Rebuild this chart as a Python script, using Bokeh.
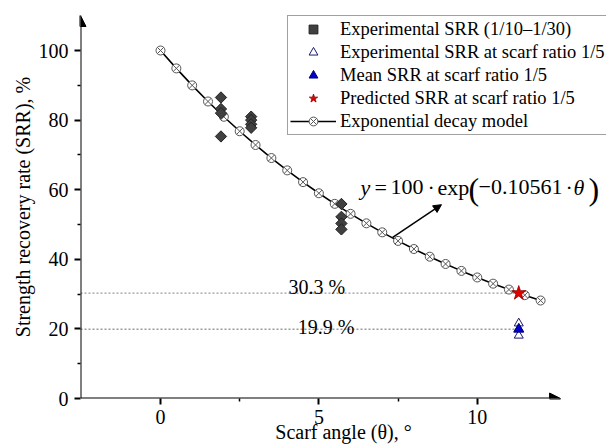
from bokeh.plotting import figure
from bokeh.models import (Range1d, FixedTicker, Label, Arrow, NormalHead,
                          Legend, LegendItem, ColumnDataSource)
from bokeh.embed import file_html
from bokeh.resources import INLINE

# ---------------- data ----------------
model_angle = [0, 0.5, 1, 1.5, 2, 2.5, 3, 3.5, 4, 4.5, 5, 5.5, 6, 6.5, 7,
               7.5, 8, 8.5, 9, 9.5, 10, 10.5, 11, 11.5, 12]
model_srr = [100.0, 94.86, 89.98, 85.35, 80.96, 76.80, 72.85, 69.10, 65.55,
             62.18, 58.98, 55.94, 53.07, 50.34, 47.75, 45.29, 42.96, 40.75,
             38.66, 36.67, 34.78, 33.00, 31.30, 29.69, 28.16]

exp_angle = [1.909, 1.909, 1.909, 1.909,
             2.862, 2.862, 2.862, 2.862,
             5.711, 5.711, 5.711, 5.711]
exp_srr = [86.5, 83.2, 82.0, 75.3,
           81.0, 80.0, 78.8, 77.8,
           55.9, 52.2, 50.3, 48.6]

r5_angle = [11.31, 11.31, 11.31]
r5_srr = [21.6, 20.0, 18.1]

mean_angle = [11.31]
mean_srr = [19.9]

pred_angle = [11.31]
pred_srr = [30.3]

ref_levels = [30.3, 19.9]
ref_labels = ["30.3 %", "19.9 %"]

x_ticks = [0, 5, 10]
x_minor = [2.5, 7.5]
y_ticks = [0, 20, 40, 60, 80, 100]
y_minor = [10, 30, 50, 70, 90]

FONT = "Liberation Serif"

# ---------------- figure ----------------
X0, X1 = -2.526, 14.08
Y0, Y1 = 0, 110.06

p = figure(width=606, height=448, output_backend="svg", toolbar_location=None,
           x_range=Range1d(X0, X1), y_range=Range1d(Y0, Y1),
           min_border_left=80, min_border_right=0, min_border_top=15,
           min_border_bottom=50)
p.outline_line_color = None
p.grid.visible = False
p.background_fill_color = "white"
p.border_fill_color = "white"

xax = p.xaxis[0]
yax = p.yaxis[0]
xax.ticker = FixedTicker(ticks=x_ticks, minor_ticks=x_minor)
yax.ticker = FixedTicker(ticks=y_ticks, minor_ticks=y_minor)
for ax in (xax, yax):
    ax.axis_line_color = None
    ax.major_tick_line_color = "black"
    ax.major_tick_line_width = 2
    ax.major_tick_out = 6
    ax.major_tick_in = 0
    ax.minor_tick_line_color = "black"
    ax.minor_tick_line_width = 1.5
    ax.minor_tick_out = 3
    ax.minor_tick_in = 0
    ax.major_label_text_font = FONT
    ax.major_label_text_font_size = "20px"
    ax.major_label_text_color = "black"
    ax.axis_label_text_font = FONT
    ax.axis_label_text_font_size = "20px"
    ax.axis_label_text_font_style = "normal"
    ax.axis_label_text_color = "black"
xax.major_label_standoff = 5
yax.major_label_standoff = 6
yax.axis_label = "Strength recovery rate (SRR), %"
yax.axis_label_standoff = 2
xax.axis_label = "Scarf angle (θ), °"
xax.axis_label_standoff = -6

# axis lines with arrow heads
p.add_layout(Arrow(end=NormalHead(size=11, fill_color="black", line_color="black"),
                   x_start=X0, y_start=0, x_end=X0, y_end=Y1,
                   line_width=2, line_color="black"))
p.add_layout(Arrow(end=NormalHead(size=11, fill_color="black", line_color="black"),
                   x_start=X0, y_start=0, x_end=12.63, y_end=0,
                   line_width=2, line_color="black"))

# reference dotted lines
p.segment(x0=[X0] * len(ref_levels), y0=ref_levels,
          x1=[pred_angle[0]] * len(ref_levels), y1=ref_levels,
          line_color="#9a9a9a", line_width=1.3, line_dash="2 2")
for xl, yl, t in [(4.04, 31.98, ref_labels[0]), (4.33, 20.49, ref_labels[1])]:
    p.add_layout(Label(x=xl, y=yl, text=t, text_font=FONT, text_font_size="20px",
                       text_baseline="alphabetic", text_color="black"))

# model
src_m = ColumnDataSource(dict(x=model_angle, y=model_srr))
r_line = p.line("x", "y", source=src_m, line_color="black", line_width=1.6)
r_mk = p.scatter("x", "y", source=src_m, marker="circle_x", size=9,
                 fill_color="white", line_color="#555555", line_width=1)

# experimental diamonds
r_exp = p.scatter(exp_angle, exp_srr, marker="square", angle=0.785398, size=8,
                  fill_color="#404040", line_color="#222222", line_width=1)

# predicted star
r_pred = p.scatter(pred_angle, pred_srr, marker="star", size=15,
                   fill_color="#e00000", line_color="#900000", line_width=0.8)

# scarf ratio 1/5
r_r5 = p.scatter(r5_angle, r5_srr, marker="triangle", size=9,
                 fill_color="white", line_color="#1a1a6e", line_width=1)
r_mean = p.scatter(mean_angle, mean_srr, marker="triangle", size=10,
                   fill_color="#0000cc", line_color="#000080", line_width=1)

# equation pieces
EQ_Y = 60.72
PAR_Y = 60.06
pieces = [
    (6.315, EQ_Y, "y", "italic", "22px"),
    (6.757, EQ_Y, "=", "normal", "22px"),
    (7.262, EQ_Y, "100", "normal", "22px"),
    (8.431, EQ_Y, "·", "normal", "22px"),
    (8.746, EQ_Y, "exp", "normal", "22px"),
    (9.725, PAR_Y, "(", "normal", "32px"),
    (10.041, EQ_Y, "−0.10561", "normal", "22px"),
    (12.788, EQ_Y, "·", "normal", "22px"),
    (13.041, EQ_Y, "θ", "italic", "22px"),
    (13.514, PAR_Y, ")", "normal", "32px"),
]
for xx, yy, t, st, fs in pieces:
    p.add_layout(Label(x=xx, y=yy, text=t, text_font=FONT, text_font_size=fs,
                       text_font_style=st, text_baseline="alphabetic",
                       text_color="black"))

p.add_layout(Arrow(end=NormalHead(size=8, fill_color="black", line_color="black"),
                   x_start=7.33, y_start=46.3, x_end=8.87, y_end=55.7,
                   line_width=1.5, line_color="black"))

# legend
legend = Legend(items=[
    LegendItem(label="Experimental SRR (1/10–1/30)", renderers=[r_exp]),
    LegendItem(label="Experimental SRR at scarf ratio 1/5", renderers=[r_r5]),
    LegendItem(label="Mean SRR at scarf ratio 1/5", renderers=[r_mean]),
    LegendItem(label="Predicted SRR at scarf ratio 1/5", renderers=[r_pred]),
    LegendItem(label="Exponential decay model", renderers=[r_line, r_mk]),
], location=(207, 263))
legend.label_text_font = FONT
legend.label_text_font_size = "18.5px"
legend.label_text_color = "black"
legend.glyph_width = 46
legend.glyph_height = 22
legend.label_height = 22
legend.label_standoff = 4
legend.spacing = 1
legend.padding = 2
legend.margin = 0
legend.border_line_color = "#444444"
legend.border_line_width = 1
legend.background_fill_color = "white"
legend.background_fill_alpha = 1
p.add_layout(legend)

open("out.html", "w").write(file_html(p, INLINE))
